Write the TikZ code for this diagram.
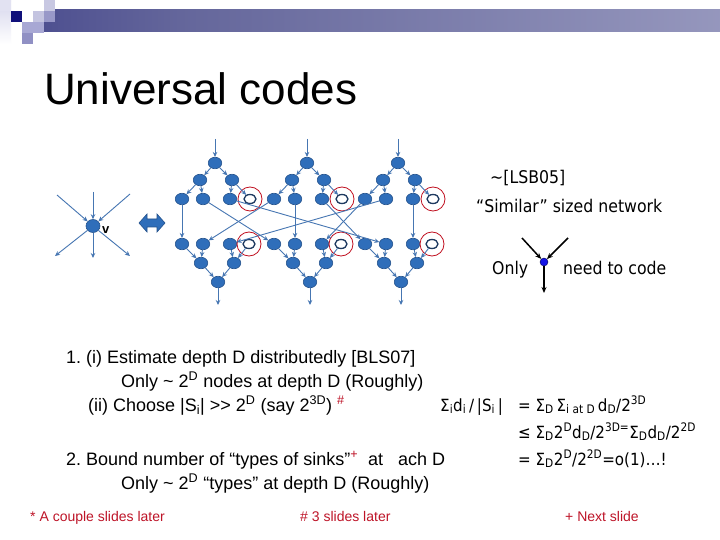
\documentclass[tikz,border=0pt]{standalone}
\usepackage{fontspec}
\setmainfont{Liberation Sans}
\newfontfamily\tah[FakeStretch=0.9]{DejaVu Sans}
\usetikzlibrary{shapes.geometric,arrows.meta}
\frenchspacing
\definecolor{nodefill}{RGB}{47,110,186}
\definecolor{nodedraw}{RGB}{36,82,140}
\definecolor{edgecol}{RGB}{70,118,178}
\definecolor{ringred}{RGB}{192,16,32}
\definecolor{hollowdraw}{RGB}{30,58,96}
\definecolor{footred}{RGB}{190,20,40}
\definecolor{dotblue}{RGB}{20,20,230}
\definecolor{barA}{RGB}{24,26,118}
\definecolor{barB}{RGB}{100,102,155}
\definecolor{barC}{RGB}{180,181,210}
\definecolor{sqfade}{RGB}{214,214,236}
\definecolor{sqA}{RGB}{226,226,242}
\definecolor{sqNavy}{RGB}{16,16,122}
\definecolor{sqB}{RGB}{196,196,224}
\definecolor{sqC}{RGB}{200,200,226}
\definecolor{sqD}{RGB}{152,152,200}
\definecolor{sqE}{RGB}{168,168,212}
\definecolor{sqF}{RGB}{144,144,196}
\pgfdeclarehorizontalshading{barshade}{100bp}{color(0bp)=(barA); color(35bp)=(barB); color(100bp)=(barC)}
\tikzset{
  netnode/.style={ellipse, fill=nodefill, draw=nodedraw, line width=0.6pt, minimum width=13.5pt, minimum height=11.5pt, inner sep=0pt},
  hollownode/.style={ellipse, fill=white, draw=hollowdraw, line width=1.3pt, minimum width=12pt, minimum height=9pt, inner sep=0pt},
  ring/.style={circle, draw=ringred, line width=0.8pt, minimum size=24pt, inner sep=0pt},
  netarrow/.style={draw=edgecol, line width=0.9pt, -{Stealth[length=5pt,width=4.5pt]}},
  blackarrow/.style={draw=black, line width=1.5pt, -{Stealth[length=6pt,width=5pt]}},
  bodytext/.style={anchor=base west, inner sep=0pt, font=\fontsize{18}{22}\selectfont},
  tahtext/.style={anchor=base west, inner sep=0pt, font=\tah\fontsize{17.5}{21}\selectfont},
  formtext/.style={anchor=base west, inner sep=0pt, font=\tah\fontsize{16.8}{20}\selectfont},
  foottext/.style={anchor=base west, inner sep=0pt, text=footred, font=\fontsize{14}{16}\selectfont}
}
\begin{document}
\begin{tikzpicture}[x=1pt,y=-1pt]
\useasboundingbox (0,0) rectangle (720,540);
\fill[white] (0,0) rectangle (720,540);
% header
\shade[shading=barshade] (44,10) rectangle (720,32);
\shade[top color=sqfade, bottom color=white] (0,0) rectangle (11,44);
\fill[sqA] (0,0) rectangle (11,11);
\fill[sqNavy] (11,11) rectangle (22,22);
\fill[sqB] (33,11) rectangle (44,22);
\fill[sqC] (44,0) rectangle (55,11);
\fill[sqD] (44,11) rectangle (55,22);
\fill[sqE] (22,22) rectangle (44,33);
\fill[sqF] (22,33) rectangle (33,44);
% title
\node[anchor=base west, inner sep=0pt, font=\fontsize{44}{50}\selectfont] (title) at (44,105) {Universal codes};
% left star node v
\node[netnode, minimum width=14pt, minimum height=13pt] (v) at (93,226) {};
\node[anchor=west, inner sep=0pt, font=\bfseries\fontsize{13}{15}\selectfont] (vlab) at (102,230) {v};
\coordinate (vi1) at (93,192);
\coordinate (vi2) at (57,195);
\coordinate (vi3) at (130,194);
\coordinate (vo1) at (93,258);
\coordinate (vo2) at (55,256);
\coordinate (vo3) at (130,256);
\foreach \c in {vi1,vi2,vi3} \draw[netarrow] (\c) -- (v);
\foreach \c in {vo1,vo2,vo3} \draw[netarrow] (v) -- (\c);
% double arrow
\filldraw[fill=nodefill, draw=nodedraw, line width=0.6pt] (139,223) -- (147,214) -- (147,219) -- (157,219) -- (157,214) -- (165,223) -- (157,232) -- (157,227) -- (147,227) -- (147,232) -- cycle;
% network units
\foreach \u/\o in {1/0,2/92,3/183}{
  \node[netnode] (u\u t) at ({215+\o},163) {};
  \node[netnode] (u\u a2) at ({200+\o},180) {};
  \node[netnode] (u\u b2) at ({232+\o},180) {};
  \node[netnode] (u\u a3) at ({182+\o},199) {};
  \node[netnode] (u\u b3) at ({203+\o},199) {};
  \node[netnode] (u\u c3) at ({230+\o},199) {};
  \node[hollownode] (u\u h3) at ({250+\o},199) {};
  \node[ring] (u\u r3) at ({250+\o},199) {};
  \node[netnode] (u\u a4) at ({182+\o},244) {};
  \node[netnode] (u\u b4) at ({203+\o},244) {};
  \node[netnode] (u\u c4) at ({230+\o},244) {};
  \node[hollownode] (u\u h4) at ({249+\o},244) {};
  \node[ring] (u\u r4) at ({249+\o},244) {};
  \node[netnode] (u\u a5) at ({201+\o},263) {};
  \node[netnode] (u\u b5) at ({234+\o},263) {};
  \node[netnode] (u\u o) at ({218+\o},282) {};
  \coordinate (u\u in) at ({215+\o},139);
  \coordinate (u\u out) at ({218+\o},305);
  \draw[netarrow] (u\u in) -- (u\u t);
  \draw[netarrow] (u\u t) -- (u\u a2);
  \draw[netarrow] (u\u t) -- (u\u b2);
  \draw[netarrow] (u\u a2) -- (u\u a3);
  \draw[netarrow] (u\u a2) -- (u\u b3);
  \draw[netarrow] (u\u b2) -- (u\u c3);
  \draw[netarrow] (u\u b2) -- (u\u h3);
  \draw[netarrow] (u\u a4) -- (u\u a5);
  \draw[netarrow] (u\u b4) -- (u\u a5);
  \draw[netarrow] (u\u c4) -- (u\u b5);
  \draw[netarrow] (u\u h4) -- (u\u b5);
  \draw[netarrow] (u\u a5) -- (u\u o);
  \draw[netarrow] (u\u b5) -- (u\u o);
  \draw[netarrow] (u\u o) -- (u\u out);
}
% vertical links
\draw[netarrow] (u1a3) -- (u1a4);
\draw[netarrow] (u2b3) -- (u2b4);
\draw[netarrow] (u3c3) -- (u3c4);
% crossing links
\draw[netarrow] (u1b3) -- (u2a4);
\draw[netarrow] (u2a3) -- (u1b4);
\draw[netarrow] (u1c3) -- (u3b4);
\draw[netarrow] (u3b3) -- (u1c4);
\draw[netarrow] (u2c3) -- (u3a4);
\draw[netarrow] (u3a3) -- (u2c4);
% right top texts
\node[tahtext] (lsb) at (490,184) {\textasciitilde[LSB05]};
\node[tahtext] (sim) at (476,213) {“Similar” sized network};
\node[tahtext] (only) at (492,274) {Only};
\node[tahtext] (ntc) at (563,274) {need to code};
\node[circle, fill=dotblue, draw=black!70!blue, line width=0.4pt, inner sep=0pt, minimum size=8pt] (ydot) at (544,262) {};
\coordinate (yl) at (522,238);
\coordinate (yr) at (568,238);
\coordinate (yb) at (544,293);
\draw[blackarrow] (yl) -- (ydot);
\draw[blackarrow] (yr) -- (ydot);
\draw[blackarrow] (ydot) -- (yb);
% left text block
\node[bodytext] (l1) at (66,363) {1. (i) Estimate depth D distributedly [BLS07]};
\node[bodytext] (l2) at (121,387) {Only \textasciitilde{} 2\textsuperscript{D} nodes at depth D (Roughly)};
\node[bodytext] (l3) at (88,411) {(ii) Choose |S\textsubscript{i}| >{}> 2\textsuperscript{D} (say 2\textsuperscript{3D}) \textsuperscript{\color{footred}\#}};
\node[bodytext] (l4) at (66,465) {2. Bound number of “types of sinks”\textsuperscript{\color{footred}+}\ \ at \hphantom{e}ach D};
\node[bodytext] (l5) at (121,489) {Only \textasciitilde{} 2\textsuperscript{D} “types” at depth D (Roughly)};
% formula block
\node[formtext] (f0) at (440,411) {Σ\textsubscript{i}d\textsubscript{i}\,/\,|S\textsubscript{i}\,|};
\node[formtext] (f1) at (518,411) {= Σ\textsubscript{D}\,Σ\textsubscript{i at D}\,d\textsubscript{D}/2\textsuperscript{3D}};
\node[formtext] (f2) at (518,438) {≤ Σ\textsubscript{D}2\textsuperscript{D}d\textsubscript{D}/2\textsuperscript{3D=}Σ\textsubscript{D}d\textsubscript{D}/2\textsuperscript{2D}};
\node[formtext] (f3) at (518,465) {= Σ\textsubscript{D}2\textsuperscript{D}/2\textsuperscript{2D}=o(1)…!};
% footnotes
\node[foottext] (n1) at (30,521) {* A couple slides later};
\node[foottext] (n2) at (300,521) {\# 3 slides later};
\node[foottext] (n3) at (565,521) {+ Next slide};
\end{tikzpicture}
\end{document}
